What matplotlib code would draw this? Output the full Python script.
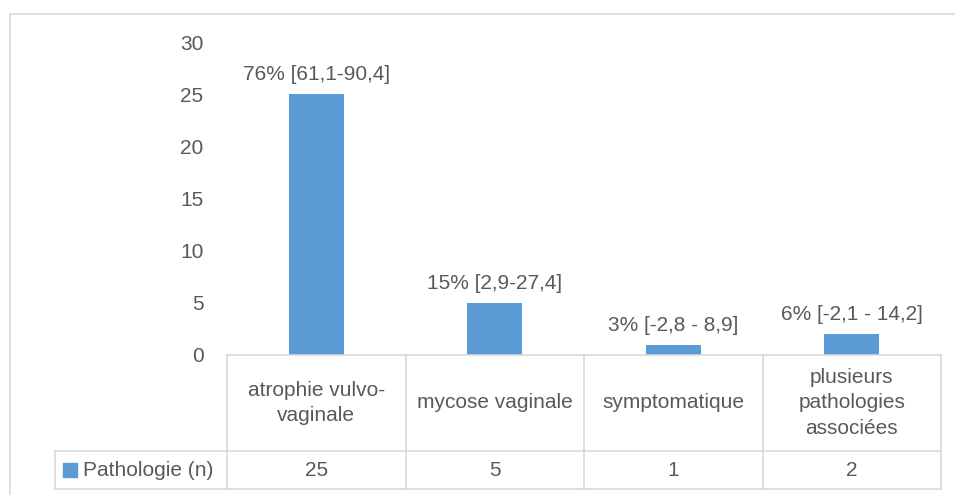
import matplotlib.pyplot as plt
import matplotlib.transforms as mtransforms
from matplotlib.lines import Line2D
from matplotlib.patches import Rectangle

# données
categories = ['atrophie vulvo-\nvaginale', 'mycose vaginale', 'symptomatique',
              'plusieurs\npathologies\nassociées']
valeurs = [25, 5, 1, 2]
etiquettes = ['76% [61,1-90,4]', '15% [2,9-27,4]', '3% [-2,8 - 8,9]', '6% [-2,1 - 14,2]']
serie = 'Pathologie (n)'
yticks = [0, 5, 10, 15, 20, 25, 30]

W, H = 955, 495
bleu = '#5b9bd5'
gris = '#d9d9d9'
texte = '#595959'
police = 'Liberation Sans'
taille = 15
plt.rcParams['font.family'] = [police, 'DejaVu Sans']


def fx(px):
    return px / W


def fy(py):
    return 1 - py / H


fig = plt.figure(figsize=(W / 100, H / 100), dpi=100)

# cadre du graphique
fig.add_artist(Rectangle((fx(10), fy(520)), 1.2, fy(14) - fy(520), transform=fig.transFigure,
                         fill=False, edgecolor=gris, linewidth=1.2))

ax = fig.add_axes([fx(227), fy(355), fx(941) - fx(227), fy(42) - fy(355)])
x = [i + 0.5 for i in range(len(valeurs))]
ax.bar(x, valeurs, width=0.31, color=bleu, zorder=2)
ax.set_xlim(0, len(valeurs))
ax.set_ylim(0, 30)
ax.set_yticks(yticks)
ax.tick_params(axis='y', length=0, pad=17, labelsize=taille, labelcolor=texte)
ax.set_xticks([])
for s in ['top', 'right', 'left']:
    ax.spines[s].set_visible(False)
ax.spines['bottom'].set_color(gris)
ax.spines['bottom'].set_linewidth(1.2)

for xi, v, lab in zip(x, valeurs, etiquettes):
    ax.annotate(lab, (xi, v), xytext=(0, 7), textcoords='offset points',
                ha='center', va='bottom', fontsize=taille, color=texte)

# tableau de données
tr = mtransforms.blended_transform_factory(ax.transData, fig.transFigure)
y_top, y_mid, y_bot = fy(355), fy(451), fy(489)
n = len(valeurs)
for i in range(n + 1):
    fig.add_artist(Line2D([i, i], [y_top, y_bot], transform=tr, color=gris, lw=1.2))
fig.add_artist(Line2D([0, n], [y_bot, y_bot], transform=tr, color=gris, lw=1.2))
fig.add_artist(Line2D([0, n], [y_mid, y_mid], transform=tr, color=gris, lw=1.2))
fig.add_artist(Line2D([fx(55), fx(227)], [y_mid, y_mid], transform=fig.transFigure,
                      color=gris, lw=1.2))
fig.add_artist(Line2D([fx(55), fx(227)], [y_bot, y_bot], transform=fig.transFigure,
                      color=gris, lw=1.2))
fig.add_artist(Line2D([fx(55), fx(55)], [y_mid, y_bot], transform=fig.transFigure,
                      color=gris, lw=1.2))

for xi, cat, v in zip(x, categories, valeurs):
    fig.text(xi, (y_top + y_mid) / 2, cat, transform=tr, ha='center', va='center',
             fontsize=taille, color=texte, linespacing=1.42)
    fig.text(xi, (y_mid + y_bot) / 2, str(v), transform=tr, ha='center', va='center',
             fontsize=taille, color=texte)

# légende dans le tableau
fig.add_artist(Rectangle((fx(63), fy(477)), fx(77) - fx(63), fy(463) - fy(477),
                         transform=fig.transFigure, color=bleu))
fig.text(fx(83), (y_mid + y_bot) / 2, serie, ha='left', va='center', fontsize=taille, color=texte)

plt.savefig('out.png', dpi=100)
plt.close()
